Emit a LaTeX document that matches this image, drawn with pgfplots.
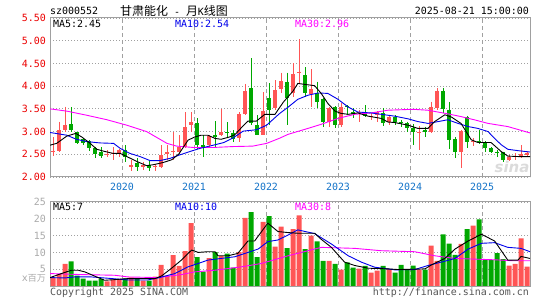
\documentclass[border=0pt]{standalone}
\usepackage{pgfplots}
\pgfplotsset{compat=1.18}
\usepackage{pgfplotstable}
\usepackage{fontspec}
\setmainfont{DejaVu Sans Mono}
\newfontfamily\cjk{Noto Sans CJK SC}
\newfontfamily\wm{DejaVu Sans}

\definecolor{kred}{RGB}{255,85,85}
\definecolor{kgreen}{RGB}{0,168,0}
\definecolor{tickred}{RGB}{235,0,0}
\definecolor{yearblue}{RGB}{20,115,200}
\definecolor{frame}{RGB}{160,160,160}
\definecolor{lbl}{RGB}{170,170,170}
\definecolor{foot}{RGB}{85,85,85}
\definecolor{maten}{RGB}{0,0,235}
\definecolor{mathirty}{RGB}{255,0,255}

% monthly candles: index, open, high, low, close, volume (millions)
\pgfplotstableread{
i o h l c v
0 2.55 2.87 2.46 2.58 2.6
1 2.57 3.22 2.54 3.03 3.5
2 3.03 3.55 2.99 3.15 6.6
9 2.48 2.59 2.45 2.51 1.4
10 2.51 2.66 2.38 2.53 1.9
11 2.52 2.61 2.45 2.59 2.1
13 2.23 2.38 2.14 2.26 2.6
15 2.23 2.34 2.16 2.26 1.6
17 2.22 2.29 2.14 2.25 2.8
18 2.22 2.70 2.20 2.49 6.3
19 2.50 2.70 2.38 2.54 3.1
20 2.54 2.99 2.38 2.57 9.2
21 2.56 2.92 2.52 2.67 6.0
22 2.66 3.43 2.63 3.10 10.4
23 3.14 3.43 3.00 3.21 18.7
26 2.70 2.92 2.66 2.90 8.3
28 2.92 3.49 2.90 2.99 8.9
31 2.85 3.43 2.77 3.38 10.1
32 3.38 4.05 3.36 3.90 20.3
35 2.93 3.87 2.92 3.45 19.1
37 3.51 4.13 3.47 3.91 11.7
38 3.93 4.30 3.84 4.11 17.7
40 3.84 4.50 3.76 4.26 16.9
41 4.29 5.03 4.06 4.32 21.0
43 3.82 4.37 3.54 3.93 15.0
46 3.20 3.54 3.10 3.51 7.5
48 3.15 3.63 3.10 3.55 4.9
51 3.41 3.47 3.21 3.43 5.2
53 3.32 3.40 3.25 3.34 4.0
54 3.36 3.45 3.21 3.43 4.6
56 3.20 3.36 3.15 3.33 5.0
61 2.98 3.12 2.60 3.00 4.9
63 2.98 3.66 2.96 3.55 12.0
64 3.51 3.96 3.48 3.90 7.5
68 2.56 3.04 2.19 3.02 12.5
70 2.77 2.85 2.68 2.79 18.0
76 2.38 2.48 2.35 2.44 6.1
77 2.43 2.52 2.38 2.46 6.6
78 2.45 2.70 2.42 2.50 14.2
79 2.48 2.56 2.45 2.52 5.8
}\up

\pgfplotstableread{
i o h l c v
3 3.17 3.54 2.99 3.04 7.3
4 2.98 2.99 2.72 2.75 3.1
5 2.83 2.86 2.70 2.75 2.2
6 2.79 2.81 2.58 2.63 1.6
7 2.63 2.67 2.41 2.51 1.6
8 2.54 2.65 2.41 2.46 2.1
12 2.59 2.70 2.34 2.45 2.3
14 2.30 2.41 2.14 2.23 2.1
16 2.26 2.36 2.14 2.20 1.6
24 3.18 3.29 2.62 2.70 8.6
25 2.70 2.92 2.44 2.66 4.3
27 2.93 3.23 2.66 2.88 10.1
29 2.99 3.21 2.88 2.96 9.6
30 2.96 3.03 2.77 2.83 5.5
33 3.95 4.61 3.14 3.18 22.0
34 3.15 3.36 2.92 2.93 8.6
36 3.73 4.06 3.14 3.47 20.8
39 4.10 4.30 3.14 3.74 11.3
42 4.24 4.42 3.76 3.86 11.0
44 3.86 4.10 3.51 3.65 13.3
45 3.71 3.73 3.10 3.20 7.5
47 3.53 3.56 3.08 3.14 6.6
49 3.56 3.58 3.36 3.53 7.0
50 3.43 3.51 3.29 3.38 5.5
52 3.40 3.58 3.31 3.34 6.0
55 3.41 3.51 3.12 3.19 6.0
57 3.33 3.36 3.15 3.22 4.0
58 3.22 3.26 3.11 3.18 6.3
59 3.18 3.22 3.00 3.07 5.0
60 3.07 3.17 2.71 2.98 6.1
62 3.04 3.11 2.89 2.99 4.9
65 3.90 3.96 3.40 3.49 15.4
66 3.48 3.65 2.61 2.82 12.6
67 2.84 2.88 2.41 2.56 9.3
69 3.33 3.35 2.63 2.76 16.9
71 2.80 3.04 2.72 2.76 19.8
72 2.76 2.79 2.54 2.64 7.7
73 2.64 2.66 2.52 2.55 7.7
74 2.56 2.59 2.45 2.52 9.8
75 2.54 2.56 2.34 2.37 8.0
}\down

\pgfplotsset{
  kaxis/.style={
    scale only axis, width=480bp,
    xmin=-0.5, xmax=79.5,
    axis line style={frame, line width=1bp},
    tick style={draw=none},
    xtick={11.5,23.5,35.5,47.5,59.5,71.5},
    xmajorgrids, ymajorgrids,
    x grid style={frame, line width=0.9bp, dash pattern=on 4bp off 3bp},
    y grid style={frame, line width=0.9bp, dash pattern=on 1bp off 2bp},
  },
  wick/.style={draw=none, mark=none, forget plot,
    error bars/.cd, y dir=minus, y explicit, error mark=none,
    error bar style={draw=#1, line width=1bp}},
  body/.style={draw=none, mark=none, forget plot,
    error bars/.cd, y dir=minus, y explicit, error mark=none,
    error bar style={draw=#1, line width=4.6bp}},
}

\begin{document}
\begin{tikzpicture}
\path[use as bounding box] (0,0) rectangle (545bp,300bp);

\node[text=black!14, font=\wm\fontsize{15}{16}\selectfont\bfseries\itshape] at (512bp,133bp) {sina};

% price panel
\begin{axis}[kaxis, at={(50bp,123bp)}, anchor=south west, height=159bp,
  ymin=2, ymax=5.5,
  ytick={2,2.5,3,3.5,4,4.5,5,5.5},
  yticklabels={2.00,2.50,3.00,3.50,4.00,4.50,5.00,5.50},
  yticklabel style={text=tickred, inner sep=0pt, xshift=-4bp},
  xticklabels={2020,2021,2022,2023,2024,2025},
  xticklabel style={text=yearblue, inner sep=0pt, anchor=center, yshift=-10bp},
]
\addplot[wick=kred] table[x=i, y=h, y error minus expr=\thisrow{h}-\thisrow{l}] {\up};
\addplot[wick=kgreen] table[x=i, y=h, y error minus expr=\thisrow{h}-\thisrow{l}] {\down};
\addplot[body=kred] table[x=i, y=c, y error minus expr=\thisrow{c}-\thisrow{o}] {\up};
\addplot[body=kgreen] table[x=i, y=o, y error minus expr=\thisrow{o}-\thisrow{c}] {\down};

% MA30
\addplot[mathirty, line width=0.9bp, mark=none] coordinates {
(-0.5,3.50) (2.3,3.45) (5.6,3.36) (9,3.26) (12.3,3.14) (15.6,3.00) (19,2.74)
(20.6,2.68) (23.4,2.65) (26.7,2.65) (30,2.67) (33.3,2.68) (35.6,2.74) (37.7,2.85)
(39.2,2.94) (42.5,3.07) (44.7,3.16) (47.5,3.29) (50.3,3.38) (53,3.41) (55.8,3.47)
(60,3.49) (62.5,3.47) (65.8,3.39) (68,3.33) (70.2,3.26) (72.5,3.18) (75.8,3.11) (79.5,2.97)};
% MA10
\addplot[maten, line width=0.9bp, mark=none] coordinates {
(-0.5,2.98) (2.3,2.92) (3.9,2.83) (5.6,2.78) (7.8,2.75) (10.1,2.74) (11.2,2.63)
(12.8,2.52) (14.5,2.45) (16.2,2.36) (17.8,2.36) (19.5,2.41) (21.2,2.49) (22.8,2.56)
(24.5,2.63) (26.7,2.70) (28.5,2.76) (30,2.86) (31.7,3.01) (33.9,3.04) (35.6,3.14)
(37.7,3.39) (39.2,3.54) (40.8,3.71) (42.5,3.80) (44.2,3.85) (45.8,3.84) (47.5,3.71)
(49.2,3.54) (50.8,3.43) (53,3.41) (54.7,3.38) (56.9,3.34) (59.2,3.28) (60.8,3.22)
(62.5,3.18) (64.2,3.22) (65.8,3.26) (67.5,3.18) (69.2,3.11) (70.8,3.07) (72.5,3.00)
(73.6,2.85) (74.7,2.71) (75.8,2.61) (77.5,2.58) (79.5,2.55)};
% MA5
\addplot[black, line width=0.9bp, mark=none] coordinates {
(-0.5,2.70) (0.6,2.74) (2.3,2.90) (3.8,2.96) (4.8,2.88) (6.2,2.74) (7.3,2.61)
(8.4,2.57) (10,2.52) (11.2,2.52) (12.3,2.45) (14,2.34) (15.6,2.25) (16.7,2.27)
(18.4,2.32) (19.8,2.38) (21,2.51) (22.5,2.81) (23.6,2.88) (24.7,2.92) (25.8,2.92)
(27,2.85) (28,2.83) (29.4,2.88) (30.3,2.93) (31.5,3.10) (32.5,3.23) (33.9,3.23)
(35.3,3.38) (37,3.38) (38.4,3.65) (40,3.89) (40.8,4.06) (41.9,4.04) (43.6,4.01)
(44.7,3.84) (45.8,3.62) (47,3.45) (48,3.40) (49.2,3.38) (50.8,3.41) (52.5,3.34)
(54.7,3.29) (55.8,3.21) (56.9,3.20) (59.2,3.14) (60.8,3.07) (62.5,3.07) (63.6,3.22)
(65.3,3.37) (66.4,3.32) (68,3.18) (69.7,2.82) (70.8,2.76) (73,2.76) (74.7,2.56)
(75.8,2.46) (77.5,2.45) (79.5,2.45)};
\end{axis}

% volume panel
\begin{axis}[kaxis, at={(50bp,14bp)}, anchor=south west, height=84bp,
  ymin=0, ymax=25,
  ytick={5,10,15,20,25},
  yticklabels={5,10,15,20,25},
  yticklabel style={text=lbl, inner sep=0pt, xshift=-4bp},
  xticklabels={},
]
\addplot[ybar, bar width=5bp, bar shift=0pt, fill=kred, draw=none] table[x=i, y=v] {\up};
\addplot[ybar, bar width=5bp, bar shift=0pt, fill=kgreen, draw=none] table[x=i, y=v] {\down};
\addplot[mathirty, line width=0.9bp, mark=none] coordinates {
(-0.5,3.7) (4.7,3.4) (10.3,3.2) (12.5,2.7) (17.5,2.5) (21.4,3.4) (23.6,4.2) (27,4.7)
(31.4,5.7) (34.7,6.7) (39.2,9.0) (42.5,10.5) (44.7,11.5) (50.3,11.2) (54.7,10.5)
(60.3,10.2) (63.6,9.0) (67,8.2) (70.3,8.0) (73.6,7.8) (76.9,7.5) (79.5,7.5)};
\addplot[maten, line width=0.9bp, mark=none] coordinates {
(-0.5,2.5) (2,2.4) (3.6,2.7) (6.4,2.7) (9.2,2.3) (12.5,1.8) (15.8,1.8) (17.5,2.4)
(20.3,3.7) (22.5,5.7) (24.2,6.7) (25.8,7.7) (28,8.2) (30.3,8.7) (32.5,10.0) (34.2,11.0)
(35.8,13.2) (37.5,13.7) (39.2,15.2) (40.8,16.7) (43.6,15.6) (46.4,12.5) (49.2,9.0)
(51.4,7.1) (53.6,5.6) (57,4.8) (60.3,4.9) (62.5,6.1) (64.7,7.1) (67,8.2) (69.2,11.0)
(71.4,12.7) (73.6,12.9) (75.8,11.5) (78,11.2) (79.5,10.2)};
\addplot[black, line width=0.9bp, mark=none] coordinates {
(-0.5,2.5) (1.4,3.7) (3.1,4.7) (4.2,4.7) (5.3,4.2) (7,2.9) (8.6,1.7) (10.3,1.9)
(12.5,2.2) (14.7,2.2) (17,2.2) (18.1,3.0) (19.7,5.2) (21.4,7.7) (23.1,10.7) (24.2,10.0)
(25.8,10.2) (27,10.2) (27.5,9.0) (29.2,9.0) (30.8,9.7) (32.5,13.4) (33.6,13.4)
(35.8,18.7) (37.5,16.2) (39.2,15.9) (40.8,15.7) (43.6,15.7) (44.7,13.9) (46.4,11.5)
(48.6,7.1) (50.3,6.1) (52.5,5.3) (55.8,5.1) (57.5,4.9) (60.3,5.0) (62,5.1) (63.1,6.3)
(65.3,8.2) (67,11.0) (69.2,13.4) (71.4,15.4) (73.6,13.4) (75.8,7.7) (77.5,7.7)
(78,8.8) (79.5,8.2)};
\end{axis}

% header
\node[anchor=west, inner sep=0pt] at (50bp,289bp) {sz000552};
\node[anchor=west, inner sep=0pt] at (120bp,289bp) {{\cjk\fontsize{12}{14}\selectfont 甘肃能化} - {\cjk\fontsize{12}{14}\selectfont 月}K{\cjk\fontsize{12}{14}\selectfont 线图}};
\node[anchor=east, inner sep=0pt] at (529bp,289bp) {2025-08-21 15:00:00};

% legends
\node[anchor=west, inner sep=0pt] at (53bp,276bp) {MA5:2.45};
\node[anchor=west, inner sep=0pt, text=maten] at (175bp,276bp) {MA10:2.54};
\node[anchor=west, inner sep=0pt, text=mathirty] at (295bp,276bp) {MA30:2.96};
\node[anchor=west, inner sep=0pt] at (53bp,93bp) {MA5:7};
\node[anchor=west, inner sep=0pt, text=maten] at (175bp,93bp) {MA10:10};
\node[anchor=west, inner sep=0pt, text=mathirty] at (295bp,93bp) {MA30:8};

% unit and footer
\node[anchor=east, inner sep=0pt, text=lbl] at (46bp,21.5bp) {x{\cjk\fontsize{9}{11}\selectfont 百万}};
\node[anchor=west, inner sep=0pt, text=foot] at (50bp,7.5bp) {Copyright 2025 SINA.COM};
\node[anchor=east, inner sep=0pt, text=foot] at (529bp,7.5bp) {http://finance.sina.com.cn};
\end{tikzpicture}
\end{document}
